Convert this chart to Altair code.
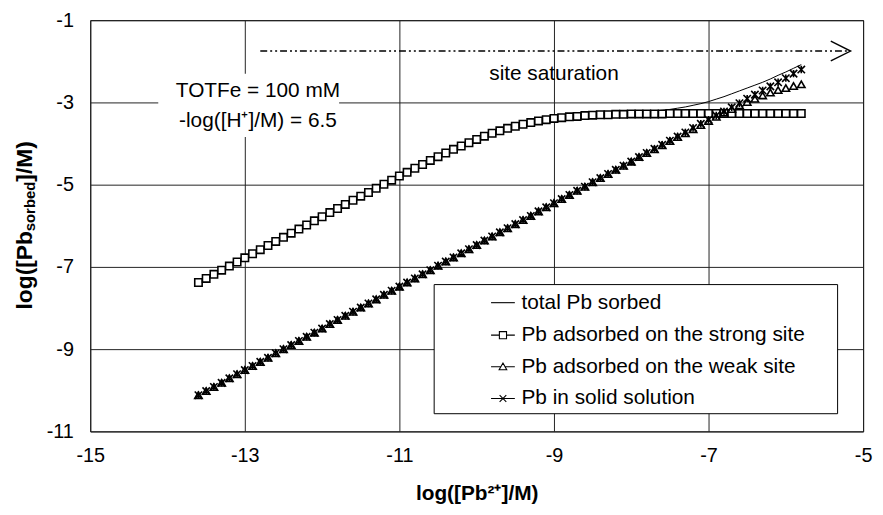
import altair as alt
import pandas as pd

FONT = "Liberation Sans"

# ---- data ----
log_pb = [-13.6, -13.5, -13.4, -13.3, -13.2, -13.1, -13.0, -12.9, -12.8, -12.7,
          -12.6, -12.5, -12.4, -12.3, -12.2, -12.1, -12.0, -11.9, -11.8, -11.7,
          -11.6, -11.5, -11.4, -11.3, -11.2, -11.1, -11.0, -10.9, -10.8, -10.7,
          -10.6, -10.5, -10.4, -10.3, -10.2, -10.1, -10.0, -9.9, -9.8, -9.7,
          -9.6, -9.5, -9.4, -9.3, -9.2, -9.1, -9.0, -8.9, -8.8, -8.7,
          -8.6, -8.5, -8.4, -8.3, -8.2, -8.1, -8.0, -7.9, -7.8, -7.7,
          -7.6, -7.5, -7.4, -7.3, -7.2, -7.1, -7.0, -6.9, -6.8, -6.7,
          -6.6, -6.5, -6.4, -6.3, -6.2, -6.1, -6.0, -5.9, -5.8]

strong = [-7.38, -7.28, -7.18, -7.08, -6.98, -6.88, -6.78, -6.68, -6.58, -6.48,
          -6.38, -6.28, -6.18, -6.08, -5.98, -5.88, -5.78, -5.68, -5.58, -5.48,
          -5.38, -5.28, -5.19, -5.09, -4.99, -4.89, -4.79, -4.70, -4.60, -4.51,
          -4.41, -4.32, -4.23, -4.14, -4.06, -3.98, -3.90, -3.82, -3.75, -3.69,
          -3.63, -3.58, -3.53, -3.49, -3.45, -3.42, -3.39, -3.37, -3.35, -3.34,
          -3.32, -3.31, -3.30, -3.30, -3.29, -3.29, -3.28, -3.28, -3.28, -3.28,
          -3.28, -3.27, -3.27, -3.27, -3.27, -3.27, -3.27, -3.27, -3.27, -3.27,
          -3.27, -3.27, -3.27, -3.27, -3.27, -3.27, -3.27, -3.27, -3.27]

weak = [-10.12, -10.02, -9.92, -9.82, -9.71, -9.61, -9.51, -9.41, -9.31, -9.21,
        -9.10, -9.00, -8.90, -8.80, -8.70, -8.60, -8.50, -8.39, -8.29, -8.19,
        -8.09, -7.99, -7.89, -7.79, -7.68, -7.58, -7.48, -7.38, -7.28, -7.18,
        -7.08, -6.97, -6.87, -6.77, -6.67, -6.57, -6.47, -6.36, -6.26, -6.16,
        -6.06, -5.96, -5.86, -5.76, -5.65, -5.55, -5.45, -5.35, -5.25, -5.15,
        -5.05, -4.94, -4.84, -4.74, -4.64, -4.54, -4.44, -4.33, -4.23, -4.14,
        -4.04, -3.94, -3.84, -3.75, -3.65, -3.55, -3.45, -3.35, -3.25, -3.16,
        -3.07, -2.99, -2.91, -2.83, -2.76, -2.70, -2.65, -2.60, -2.56]

solid = [-10.12, -10.02, -9.92, -9.82, -9.71, -9.61, -9.51, -9.41, -9.31, -9.21,
         -9.10, -9.00, -8.90, -8.80, -8.70, -8.60, -8.50, -8.39, -8.29, -8.19,
         -8.09, -7.99, -7.89, -7.79, -7.68, -7.58, -7.48, -7.38, -7.28, -7.18,
         -7.08, -6.97, -6.87, -6.77, -6.67, -6.57, -6.47, -6.36, -6.26, -6.16,
         -6.06, -5.96, -5.86, -5.76, -5.65, -5.55, -5.45, -5.35, -5.25, -5.15,
         -5.05, -4.94, -4.84, -4.74, -4.64, -4.54, -4.44, -4.33, -4.23, -4.13,
         -4.03, -3.93, -3.83, -3.73, -3.62, -3.52, -3.42, -3.32, -3.22, -3.12,
         -3.02, -2.91, -2.81, -2.71, -2.61, -2.51, -2.41, -2.30, -2.20]

total = [-7.38, -7.28, -7.18, -7.08, -6.98, -6.88, -6.78, -6.68, -6.58, -6.48,
         -6.38, -6.28, -6.18, -6.08, -5.98, -5.88, -5.78, -5.68, -5.58, -5.48,
         -5.38, -5.28, -5.19, -5.09, -4.99, -4.89, -4.79, -4.70, -4.60, -4.51,
         -4.41, -4.32, -4.23, -4.14, -4.06, -3.98, -3.90, -3.82, -3.75, -3.69,
         -3.63, -3.58, -3.53, -3.49, -3.45, -3.42, -3.39, -3.36, -3.34, -3.33,
         -3.31, -3.30, -3.29, -3.28, -3.27, -3.26, -3.25, -3.24, -3.23, -3.21,
         -3.19, -3.17, -3.14, -3.11, -3.07, -3.03, -2.98, -2.92, -2.86, -2.79,
         -2.72, -2.65, -2.58, -2.51, -2.43, -2.34, -2.26, -2.17, -2.08]

series_names = ["total Pb sorbed", "Pb adsorbed on the strong site",
                "Pb adsorbed on the weak site", "Pb in solid solution"]

x_ticks = [-15, -13, -11, -9, -7, -5]
y_ticks = [-11, -9, -7, -5, -3, -1]

note_lines = ["TOTFe = 100 mM", "-log([H\u207a]/M) = 6.5"]
note_x = [-12.83, -12.83]
note_y = [-2.73, -3.46]

sat_label = "site saturation"
sat_x = [-12.8, -5.17]
sat_y = -1.75

# legend entry anchors (data units, inside the legend frame)
legend_sym_x = -9.66
legend_text_x = -9.42
legend_y = [-7.87, -8.66, -9.43, -10.20]

# ---- tables ----
rows = []
for name, vals in [(series_names[1], strong), (series_names[2], weak), (series_names[3], solid)]:
    for xv, yv in zip(log_pb, vals):
        rows.append({"x": xv, "y": yv, "series": name})
markers_df = pd.DataFrame(rows)
total_df = pd.DataFrame({"x": log_pb, "y": total})

xs = alt.Scale(domain=[-15, -5], nice=False, zero=False)
ys = alt.Scale(domain=[-11, -1], nice=False, zero=False)

X = alt.X("x:Q", scale=xs, axis=alt.Axis(
    values=x_ticks, labelExpr="'' + datum.value", title="log([Pb\u00b2\u207a]/M)",
    grid=True, ticks=False, domain=False, labelPadding=14, titlePadding=18,
    labelFontSize=20, titleFontSize=21, titleFontWeight="bold",
    labelFont=FONT, titleFont=FONT, labelColor="black", titleColor="black",
    gridColor="#222222", gridWidth=1, labelFlush=False))
Y = alt.Y("y:Q", scale=ys, axis=alt.Axis(
    values=y_ticks, labelExpr="'' + datum.value", title=None,
    grid=True, ticks=False, domain=False, labelPadding=17,
    labelFontSize=20, labelFont=FONT, labelColor="black",
    gridColor="#222222", gridWidth=1, labelFlush=False))

star = "M-1,-1L1,1M-1,1L1,-1M0,-1L0,1"
marker_shapes = ["square", "triangle-up", star]

total_line = alt.Chart(total_df).mark_line(color="black", strokeWidth=1).encode(x=X, y=Y)

markers = alt.Chart(markers_df).mark_point(
    fill="white", stroke="black", strokeWidth=1.6, opacity=1, size=56
).encode(
    x=X, y=Y,
    shape=alt.Shape("series:N", scale=alt.Scale(domain=series_names[1:], range=marker_shapes),
                    legend=None),
)

# white box behind the note
note_box = alt.Chart(pd.DataFrame({"x": [-14.12], "x2": [-11.78], "y": [-2.30], "y2": [-3.84]})).mark_rect(
    fill="white").encode(x=X, x2="x2:Q", y=Y, y2="y2:Q")

note_text = alt.Chart(pd.DataFrame({"x": note_x, "y": note_y, "t": note_lines})).mark_text(
    font=FONT, fontSize=21, color="black", align="center", baseline="middle"
).encode(x=X, y=Y, text="t:N")

sat_text = alt.Chart(pd.DataFrame({"x": [-9.0], "y": [-2.30], "t": [sat_label]})).mark_text(
    font=FONT, fontSize=21, color="black", align="center", baseline="middle"
).encode(x=X, y=Y, text="t:N")

sat_line = alt.Chart(pd.DataFrame({"x": sat_x, "y": [sat_y, sat_y]})).mark_line(
    color="black", strokeWidth=1.4, strokeDash=[7, 3, 2, 3, 2, 3]
).encode(x=X, y=Y)

arrow_head = alt.Chart(pd.DataFrame({"x": [-5.29], "y": [sat_y]})).mark_point(
    shape="M-1,-1L1,0L-1,1", size=400, filled=False, stroke="black", strokeWidth=1.4, opacity=1
).encode(x=X, y=Y)

# legend: frame, symbols and labels
legend_box = alt.Chart(pd.DataFrame({"x": [-10.55], "x2": [-5.33], "y": [-7.43], "y2": [-10.57]})).mark_rect(
    fill="white", stroke="black", strokeWidth=1).encode(x=X, x2="x2:Q", y=Y, y2="y2:Q")

legend_paths = [
    "M-1,0H1",
    "M-1,0H-0.3M0.3,0H1M-0.3,-0.3H0.3V0.3H-0.3Z",
    "M-1,0H-0.2M0.2,0H1M0,-0.32L0.32,0.24H-0.32Z",
    "M-1,0H1M-0.28,-0.28L0.28,0.28M-0.28,0.28L0.28,-0.28",
]
legend_df = pd.DataFrame({"x": [legend_sym_x] * 4, "y": legend_y, "s": series_names})
legend_syms = alt.Chart(legend_df).mark_point(
    fill="white", stroke="black", strokeWidth=1.1, opacity=1, size=576
).encode(
    x=X, y=Y,
    shape=alt.Shape("s:N", scale=alt.Scale(domain=series_names, range=legend_paths), legend=None),
)
legend_text = alt.Chart(pd.DataFrame({"x": [legend_text_x] * 4, "y": legend_y, "t": series_names})).mark_text(
    font=FONT, fontSize=21, color="black", align="left", baseline="middle"
).encode(x=X, y=Y, text="t:N")

# y-axis title with subscript, built from text pieces
def ytitle_piece(txt, xpos, ypos, size):
    return alt.Chart(pd.DataFrame({"t": [txt]})).mark_text(
        font=FONT, fontSize=size, fontWeight="bold", color="black",
        angle=270, align="left", baseline="middle"
    ).encode(x=alt.value(xpos), y=alt.value(ypos), text="t:N")

yt1 = ytitle_piece("log([Pb", -66, 292, 23)
yt2 = ytitle_piece("sorbed", -61, 213, 15)
yt3 = ytitle_piece("]/M)", -66, 163, 23)

chart = alt.layer(
    note_box, legend_box, total_line, markers, note_text, sat_text, sat_line, arrow_head,
    legend_syms, legend_text, yt1, yt2, yt3
).resolve_scale(shape="independent").properties(
    width=780, height=415,
    autosize=alt.AutoSizeParams(type="none"),
    padding={"left": 83, "top": 10, "right": 12, "bottom": 72},
    background="white",
).configure_view(stroke="black", strokeWidth=1)

chart.save("out.html", embed_options={"renderer": "svg", "actions": False})
